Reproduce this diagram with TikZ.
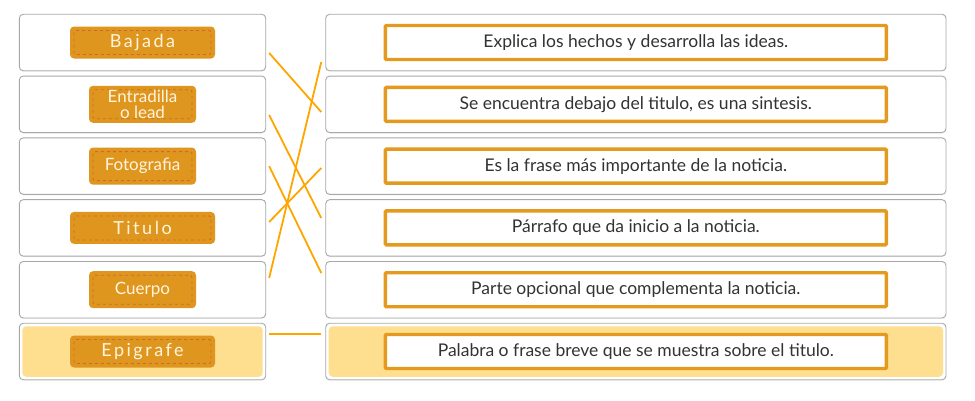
\documentclass[tikz,border=0pt]{standalone}
\usepackage{fontspec}
\setmainfont{Lato}
\newfontfamily\tagfont[LetterSpace=14]{Lato}
\usetikzlibrary{positioning}
\usetikzlibrary{shadows}

\definecolor{cardgray}{HTML}{A8A8A8}
\definecolor{tagorange}{HTML}{DF961F}
\definecolor{tagdash}{HTML}{CF6A2C}
\definecolor{tagtext}{HTML}{FFF4DE}
\definecolor{boxorange}{HTML}{E39A1E}
\definecolor{linkorange}{HTML}{FFA500}
\definecolor{paleyellow}{HTML}{FEDE8F}
\definecolor{darktext}{HTML}{333333}

\begin{document}
\begin{tikzpicture}
    [
    x=1pt,y=-1pt,
    card/.style={rectangle,draw=cardgray,line width=0.9pt,fill=white,rounded corners=4pt,
      minimum height=56.5pt,inner sep=0pt,
      drop shadow={opacity=0.12,shadow xshift=0pt,shadow yshift=-1pt}},
    leftcard/.style={card,minimum width=246.4pt},
    rightcard/.style={card,minimum width=620.3pt},
    chosen/.style={path picture={\fill[paleyellow]
      ([shift={(3pt,-3pt)}]path picture bounding box.north west) rectangle
      ([shift={(-3pt,3pt)}]path picture bounding box.south east);}},
    tag/.style={rectangle,fill=tagorange,rounded corners=4pt,inner sep=0pt,
      text=tagtext,align=center,
      path picture={\draw[tagdash,dashed,line width=0.8pt,rounded corners=2pt]
      ([shift={(4pt,-4pt)}]path picture bounding box.north west) rectangle
      ([shift={(-4pt,4pt)}]path picture bounding box.south east);}},
    widetag/.style={tag,minimum width=145pt,minimum height=32pt,font=\tagfont\fontsize{18}{18}\selectfont},
    shorttag/.style={tag,minimum width=107pt,minimum height=37pt,font=\fontsize{17}{15.5}\selectfont},
    answer/.style={rectangle,draw=boxorange,line width=3.4pt,fill=white,rounded corners=1pt,
      minimum width=501pt,minimum height=34pt,text=darktext,font=\fontsize{17.5}{18}\selectfont},
    link/.style={draw=linkorange,line width=1.8pt},
    ]
    \useasboundingbox (0,0) rectangle (975,400);

    % left column
    \node (c1) at (142.5,42.5) [leftcard] {};
    \node (c2) [leftcard,below=4.4pt of c1] {};
    \node (c3) [leftcard,below=4.4pt of c2] {};
    \node (c4) [leftcard,below=4.4pt of c3] {};
    \node (c5) [leftcard,below=4.4pt of c4] {};
    \node (c6) [leftcard,chosen,below=4.4pt of c5] {};

    \node (bajada) at (c1) [widetag] {Bajada};
    \node (entradilla) at (c2) [shorttag] {Entradilla\\o lead};
    \node (foto) at (c3) [shorttag] {Fotografia};
    \node (titulo) at (c4) [widetag] {Titulo};
    \node (cuerpo) at (c5) [shorttag] {Cuerpo};
    \node (epigrafe) at (c6) [widetag] {Epigrafe};

    % right column
    \node (r1) [rightcard,right=59.1pt of c1] {};
    \node (r2) [rightcard,right=59.1pt of c2] {};
    \node (r3) [rightcard,right=59.1pt of c3] {};
    \node (r4) [rightcard,right=59.1pt of c4] {};
    \node (r5) [rightcard,right=59.1pt of c5] {};
    \node (r6) [rightcard,chosen,right=59.1pt of c6] {};

    \node (d1) at (r1) [answer] {Explica los hechos y desarrolla las ideas.};
    \node (d2) at (r2) [answer] {Se encuentra debajo del titulo, es una sintesis.};
    \node (d3) at (r3) [answer] {Es la frase más importante de la noticia.};
    \node (d4) at (r4) [answer] {Párrafo que da inicio a la noticia.};
    \node (d5) at (r5) [answer] {Parte opcional que complementa la noticia.};
    \node (d6) at (r6) [answer] {Palabra o frase breve que se muestra sobre el titulo.};

    % matches
    \draw [link] ([shift={(3,10.5)}]c1.east) to ([shift={(-4,7.7)}]r2.west);
    \draw [link] ([shift={(3,10.7)}]c2.east) to ([shift={(-4,-9.9)}]r4.west);
    \draw [link] ([shift={(3,0)}]c3.east) to ([shift={(-4,-16.7)}]r5.west);
    \draw [link] ([shift={(3,-5.9)}]c4.east) to ([shift={(-4,1.9)}]r3.west);
    \draw [link] ([shift={(3,-11.7)}]c5.east) to ([shift={(-4,19.5)}]r1.west);
    \draw [link] ([shift={(3,-17.5)}]c6.east) to ([shift={(-4,-17.5)}]r6.west);
  \end{tikzpicture}
\end{document}
